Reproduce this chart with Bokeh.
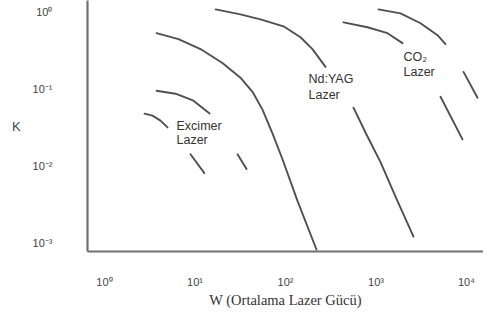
from bokeh.plotting import figure
from bokeh.models import Range1d, FixedTicker, CustomJSTickFormatter, ColumnDataSource
from bokeh.core.properties import value
from bokeh.embed import file_html
from bokeh.resources import INLINE

# ---- tick labels ----
x_ticks = [1, 10, 100, 1000, 10000]
x_tick_labels = ["10⁰", "10¹", "10²", "10³", "10⁴"]
y_ticks = [1, 0.1, 0.01, 0.001]
y_tick_labels = ["10⁰", "10⁻¹", "10⁻²", "10⁻³"]

# ---- curves (W, K) ----
excimer_1_w = [2.77, 3.39, 4.16, 4.97]
excimer_1_k = [0.0480, 0.0453, 0.0390, 0.0318]
excimer_2_w = [3.76, 6.09, 9.62, 14.5]
excimer_2_k = [0.0954, 0.0873, 0.0708, 0.0481]
excimer_3_w = [8.92, 12.7]
excimer_3_k = [0.0142, 0.00807]
excimer_4_w = [29.5, 37.1]
excimer_4_k = [0.0142, 0.00910]

ndyag_1_w = [3.76, 6.57, 11.5, 20.1, 31.8, 43.2, 55.7, 71.8, 92.7, 135.7, 220]
ndyag_1_k = [0.536, 0.448, 0.333, 0.219, 0.141, 0.0925, 0.0542, 0.0265, 0.01224, 0.00351, 0.000816]
ndyag_2_w = [16.9, 31.8, 52.9, 95.0, 146.5, 198.7, 276.7]
ndyag_2_k = [1.093, 0.943, 0.812, 0.659, 0.475, 0.333, 0.195]
ndyag_3_w = [564, 785, 1122, 1686, 2596]
ndyag_3_k = [0.0575, 0.0257, 0.0112, 0.00372, 0.001203]

co2_1_w = [437.5, 805, 1340, 1963]
co2_1_k = [0.743, 0.640, 0.536, 0.398]
co2_2_w = [1066, 1866, 3104, 4784, 5861]
co2_2_k = [1.093, 0.971, 0.722, 0.505, 0.386]
co2_3_w = [5164, 9036]
co2_3_k = [0.0797, 0.0222]
co2_4_w = [9268, 13240]
co2_4_k = [0.168, 0.0774]

label_text = ["Excimer", "Lazer", "Nd:YAG", "Lazer", "CO₂", "Lazer"]
label_w = [6.25, 6.25, 179.6, 179.6, 2014, 2014]
label_k = [0.0327, 0.0215, 0.136, 0.0847, 0.262, 0.168]

x_title = "W (Ortalama Lazer Gücü)"
y_title = "K"

p = figure(width=483, height=310, x_axis_type="log", y_axis_type="log",
           x_range=Range1d(0.6491, 15417), y_range=Range1d(0.000769, 1.429),
           output_backend="svg", toolbar_location=None,
           min_border_left=87, min_border_right=0, min_border_top=0, min_border_bottom=57)
p.background_fill_color = "white"
p.border_fill_color = "white"
p.outline_line_color = None
p.grid.grid_line_color = None

xs = [excimer_1_w, excimer_2_w, excimer_3_w, excimer_4_w,
      ndyag_1_w, ndyag_2_w, ndyag_3_w,
      co2_1_w, co2_2_w, co2_3_w, co2_4_w]
ys = [excimer_1_k, excimer_2_k, excimer_3_k, excimer_4_k,
      ndyag_1_k, ndyag_2_k, ndyag_3_k,
      co2_1_k, co2_2_k, co2_3_k, co2_4_k]
p.multi_line(xs, ys, line_color="#505050", line_width=1.9,
             line_join="round", line_cap="round")

src = ColumnDataSource(dict(x=label_w, y=label_k, t=label_text))
p.text(x="x", y="y", text="t", source=src, text_font=value("Liberation Sans"),
       text_font_size="12.5px", text_color="#333333",
       text_align="left", text_baseline="middle")

fmt_code = """
let best = -1;
for (let i = 0; i < vals.length; i++) {
  if (Math.abs(Math.log10(vals[i]) - Math.log10(tick)) < 1e-6) { best = i; }
}
return best >= 0 ? labs[best] : "";
"""

for ax, ticks, labs in ((p.xaxis[0], x_ticks, x_tick_labels), (p.yaxis[0], y_ticks, y_tick_labels)):
    ax.ticker = FixedTicker(ticks=ticks, minor_ticks=[])
    ax.formatter = CustomJSTickFormatter(args=dict(vals=ticks, labs=labs), code=fmt_code)
    ax.major_tick_line_color = None
    ax.minor_tick_line_color = None
    ax.axis_line_color = "#707070"
    ax.axis_line_width = 2.2
    ax.major_label_text_font = "Liberation Sans"
    ax.major_label_text_font_size = "11px"
    ax.major_label_text_color = "#444444"

p.xaxis[0].major_label_standoff = 18
p.yaxis[0].major_label_standoff = 29

p.xaxis[0].axis_label = x_title
p.xaxis[0].axis_label_text_font = "Liberation Serif"
p.xaxis[0].axis_label_text_font_style = "normal"
p.xaxis[0].axis_label_text_font_size = "14.5px"
p.xaxis[0].axis_label_text_color = "#333333"
p.xaxis[0].axis_label_standoff = 1

p.yaxis[0].axis_label = y_title
p.yaxis[0].axis_label_text_font = "Liberation Sans"
p.yaxis[0].axis_label_text_font_style = "normal"
p.yaxis[0].axis_label_text_font_size = "13px"
p.yaxis[0].axis_label_text_color = "#2f4a52"
p.yaxis[0].axis_label_standoff = 9
if "axis_label_orientation" in p.yaxis[0].properties():
    p.yaxis[0].axis_label_orientation = "horizontal"

open("out.html", "w").write(file_html(p, INLINE))
